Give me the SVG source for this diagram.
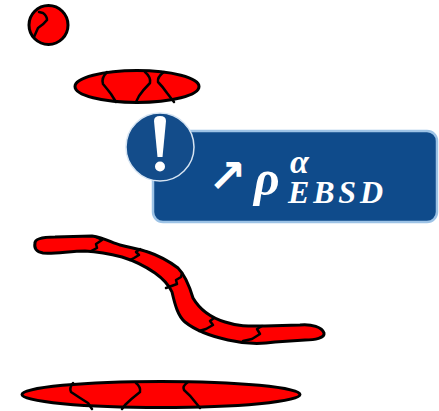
<svg xmlns="http://www.w3.org/2000/svg" width="439" height="411" viewBox="0 0 439 411">
  <style>
    .grain { fill: #ff0000; stroke: #000000; stroke-width: 3; stroke-linejoin: round; }
    .gb { fill: none; stroke: #000000; stroke-width: 2.5; stroke-linecap: round; stroke-linejoin: round; }
    .math { font-family: "Liberation Serif", "DejaVu Serif", serif; font-style: italic; font-weight: bold; fill: #ffffff; }
  </style>

  <!-- small round grain -->
  <g id="grain-round">
    <circle class="grain" cx="48.5" cy="25" r="19.5"/>
    <path class="gb" d="M39,12 L43,13 Q47,16 47,20 Q44,24 38,28 L34,37"/>
  </g>

  <!-- flattened grain -->
  <g id="grain-flat">
    <ellipse class="grain" cx="137" cy="86.5" rx="62" ry="16"/>
    <path class="gb" d="M107,72 Q101,78 103,84 Q108,90 111,94 L116,102"/>
    <path class="gb" d="M145,72 Q151,77 150,83 Q143,90 139,96 L136,102"/>
    <path class="gb" d="M164,72 Q157,77 158,82 Q163,87 167,93 L174,102"/>
  </g>

  <!-- callout -->
  <g id="callout">
    <rect x="153" y="131" width="284" height="91" rx="10" fill="#0f4b8b" stroke="#9dc3e6" stroke-width="2.5"/>
    <text x="208" y="192" font-family="DejaVu Sans, sans-serif" font-weight="bold" font-size="46" fill="#ffffff">↗</text>
    <text class="math" x="254" y="195" font-size="50">ρ</text>
    <text class="math" x="290" y="173" font-size="34">α</text>
    <text class="math" x="288" y="203" font-size="32" textLength="95" lengthAdjust="spacing">EBSD</text>
  </g>

  <g id="warning">
    <circle cx="160" cy="147" r="34" fill="#134c8a" stroke="#d6e4f2" stroke-width="1.5"/>
    <path d="M154,121 Q154,116 160,116 Q166,116 166,121 L162.5,157 L157.5,157 Z" fill="#ffffff"/>
    <circle cx="160" cy="166.5" r="5" fill="#ffffff"/>
  </g>

  <!-- elongated, bent grain -->
  <g id="grain-worm">
    <path class="grain" d="M35,243 C35,238 45,237 55,237 L92,236 C105,238 112,243 120,245 C132,248 140,249 148,252 C160,256 170,262 178,268 C186,276 190,288 193,298 C200,310 212,318 225,322 C240,327 252,326 265,326 L300,325 C312,324 322,327 324,333 C325,338 315,340 305,340 L275,342 C262,344 245,344 228,340 C210,336 195,330 185,322 C178,316 175,305 172,292 C168,283 162,278 155,273 C145,266 135,261 122,257 C110,254 100,252 85,251 C70,251 55,254 43,253 C36,252 34,248 35,243 Z"/>
    <path class="gb" d="M96,237 L102,240 L96,244 L97,248 L91,251"/>
    <path class="gb" d="M140,249 L136,252 L139,255 L134,258 L130,260"/>
    <path class="gb" d="M182,273 L181,277 L176,280 L177,284 L166,288"/>
    <path class="gb" d="M214,318 L210,321 L213,325 L206,329 L199,331"/>
    <path class="gb" d="M262,326 L257,329 L260,334 L252,339 L243,341"/>
  </g>

  <!-- flat grain at bottom -->
  <g id="grain-flat-long">
    <ellipse class="grain" cx="161" cy="394.5" rx="139" ry="13"/>
    <path class="gb" d="M73,383 Q69,388 71,392 Q80,398 88,403 L92,409"/>
    <path class="gb" d="M136,383 Q141,387 140,392 Q131,399 125,405 L122,409"/>
    <path class="gb" d="M188,382 Q182,386 184,390 Q191,396 196,403 L200,408"/>
  </g>
</svg>
